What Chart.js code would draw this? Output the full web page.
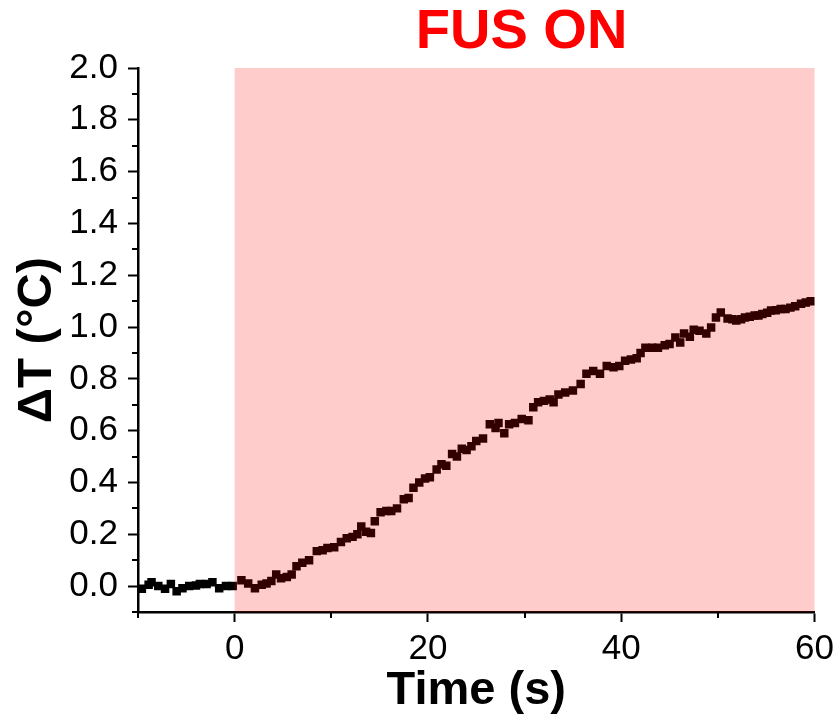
<!DOCTYPE html>
<html>
<head>
<meta charset="utf-8">
<script src="https://cdn.jsdelivr.net/npm/chart.js@4/dist/chart.umd.min.js"></script>
<style>
  body { margin: 0; background: #fff; }
  #wrap { width: 840px; height: 723px; }
</style>
</head>
<body>
<div id="wrap"><canvas id="c" width="840" height="723"></canvas></div>
<script>
// 溫升曲線：FUS 開啟前後 ΔT 隨時間變化（數值自圖面讀取）
const TIME = [
  -9.6, -8.9, -8.6, -7.9, -7.2, -6.6, -6.0, -5.4, -4.7, -4.0, -3.6, -2.9, -2.3, -1.6, -0.9, -0.2,
  0.7, 1.4, 2.1, 2.8, 3.3, 3.8, 4.3, 4.8, 5.4, 5.9, 6.4, 7.0, 7.7, 8.5, 9.1, 9.6,
  10.3, 11.0, 11.6, 12.2, 12.7, 13.1, 13.6, 14.1, 14.5, 15.1, 15.7, 16.2, 16.8, 17.5, 18.0, 18.5,
  19.1, 19.7, 20.2, 20.9, 21.4, 21.9, 22.5, 23.0, 23.5, 24.0, 24.5, 25.0, 25.7, 26.4, 27.0, 27.3,
  27.9, 28.4, 29.0, 29.7, 30.4, 30.9, 31.4, 32.0, 32.6, 33.0, 33.5, 34.2, 35.0, 35.8, 36.4, 37.1,
  37.8, 38.5, 39.2, 39.8, 40.4, 41.0, 41.6, 42.0, 42.5, 43.2, 43.8, 44.5, 45.0, 45.6, 46.1, 46.5,
  47.1, 47.5, 48.1, 48.8, 49.3, 49.8, 50.3, 51.0, 51.5, 51.9, 52.4, 52.8, 53.3, 53.8, 54.2, 54.6,
  55.1, 55.5, 56.0, 56.5, 57.0, 57.5, 58.0, 58.6, 59.1, 59.6
];
const DELTA_T = [
  -0.010, 0.005, 0.015, 0.000, -0.010, 0.008, -0.020, -0.008, 0.000, 0.002, 0.008, 0.008, 0.015, -0.008, 0.000, 0.000,
  0.023, 0.010, -0.008, 0.005, 0.010, 0.020, 0.045, 0.030, 0.035, 0.045, 0.077, 0.090, 0.100, 0.135, 0.138, 0.147,
  0.150, 0.170, 0.185, 0.190, 0.200, 0.230, 0.210, 0.205, 0.250, 0.285, 0.290, 0.290, 0.300, 0.335, 0.340, 0.380,
  0.400, 0.415, 0.420, 0.450, 0.470, 0.465, 0.510, 0.500, 0.530, 0.525, 0.540, 0.560, 0.570, 0.625, 0.610, 0.630,
  0.590, 0.625, 0.630, 0.645, 0.640, 0.690, 0.710, 0.715, 0.720, 0.710, 0.740, 0.747, 0.755, 0.780, 0.820, 0.830,
  0.820, 0.850, 0.845, 0.850, 0.870, 0.875, 0.880, 0.900, 0.920, 0.920, 0.920, 0.930, 0.935, 0.960, 0.940, 0.975,
  0.963, 0.990, 0.986, 0.975, 0.998, 1.037, 1.056, 1.033, 1.030, 1.025, 1.030, 1.037, 1.040, 1.045, 1.045, 1.050,
  1.055, 1.064, 1.065, 1.070, 1.070, 1.075, 1.080, 1.090, 1.095, 1.100
];
const X_MAJOR = [0, 20, 40, 60];
const X_MINOR = [-10, 10, 30, 50];
const Y_MAJOR = [0, 0.2, 0.4, 0.6, 0.8, 1.0, 1.2, 1.4, 1.6, 1.8, 2.0];
const Y_MINOR = [-0.1, 0.1, 0.3, 0.5, 0.7, 0.9, 1.1, 1.3, 1.5, 1.7, 1.9];
const FUS_START = 0, FUS_END = 60;
const FUS_LABEL = 'FUS ON';

const FONT = "'Liberation Sans', Arial, sans-serif";

// 副刻度 + FUS 區間半透明紅色覆蓋 + 上方標題
const overlayPlugin = {
  id: 'overlay',
  afterDatasetsDraw(chart) {
    const { ctx, chartArea: a, scales: { x } } = chart;
    const x0 = x.getPixelForValue(FUS_START), x1 = x.getPixelForValue(FUS_END);
    ctx.save();
    ctx.fillStyle = 'rgba(255,0,0,0.2)';
    ctx.fillRect(x0, a.top, x1 - x0, a.bottom - a.top);
    ctx.restore();
  },
  afterDraw(chart) {
    const { ctx, chartArea: a, scales: { x, y } } = chart;
    ctx.save();
    ctx.strokeStyle = '#000';
    ctx.lineWidth = 2;
    ctx.beginPath();
    X_MINOR.forEach((v) => {
      const px = Math.round(x.getPixelForValue(v));
      ctx.moveTo(px, a.bottom); ctx.lineTo(px, a.bottom + 6);
    });
    Y_MINOR.forEach((v) => {
      const py = Math.round(y.getPixelForValue(v));
      ctx.moveTo(a.left, py); ctx.lineTo(a.left - 6, py);
    });
    ctx.stroke();
    const cx = (x.getPixelForValue(FUS_START) + x.getPixelForValue(FUS_END)) / 2;
    ctx.fillStyle = '#ff0000';
    ctx.font = `bold 56px ${FONT}`;
    ctx.textAlign = 'center';
    ctx.textBaseline = 'middle';
    ctx.fillText(FUS_LABEL, cx - 3, 33);
    ctx.restore();
  },
};

new Chart(document.getElementById('c'), {
  type: 'scatter',
  data: {
    datasets: [{
      data: TIME.map((t, i) => ({ x: t, y: DELTA_T[i] })),
      pointStyle: 'rect',
      pointRadius: 6,
      pointBorderWidth: 0,
      pointBackgroundColor: '#000',
      pointBorderColor: '#000',
      showLine: false,
    }],
  },
  options: {
    responsive: false, animation: false,
    layout: { padding: { left: 0, right: 23, top: 68, bottom: 0 } },
    plugins: { legend: { display: false }, tooltip: { enabled: false } },
    scales: {
      x: {
        type: 'linear', min: -10, max: 60,
        afterBuildTicks: (s) => { s.ticks = X_MAJOR.map((v) => ({ value: v })); },
        afterFit: (s) => { s.height = 111; },
        grid: { display: true, drawOnChartArea: false, tickLength: 10, tickWidth: 2, tickColor: '#000' },
        border: { display: true, color: '#000', width: 2.5 },
        ticks: { color: '#000', padding: 6, font: { family: FONT, size: 35 }, maxRotation: 0 },
        title: { display: true, text: 'Time (s)', color: '#000', font: { family: FONT, size: 47, weight: 'bold' }, padding: { bottom: 4 } },
      },
      y: {
        type: 'linear', min: -0.1, max: 2.0,
        afterBuildTicks: (s) => { s.ticks = Y_MAJOR.map((v) => ({ value: v })); },
        afterFit: (s) => { s.width = 138; },
        grid: { display: true, drawOnChartArea: false, tickLength: 10, tickWidth: 2, tickColor: '#000' },
        border: { display: true, color: '#000', width: 2.5 },
        ticks: { color: '#000', padding: 10, font: { family: FONT, size: 35 }, callback: (v) => v.toFixed(1) },
        title: { display: true, text: 'ΔT (°C)', color: '#000', font: { family: FONT, size: 49, weight: 'bold' }, padding: { top: 8 } },
      },
    },
  },
  plugins: [overlayPlugin],
});
</script>
</body>
</html>
